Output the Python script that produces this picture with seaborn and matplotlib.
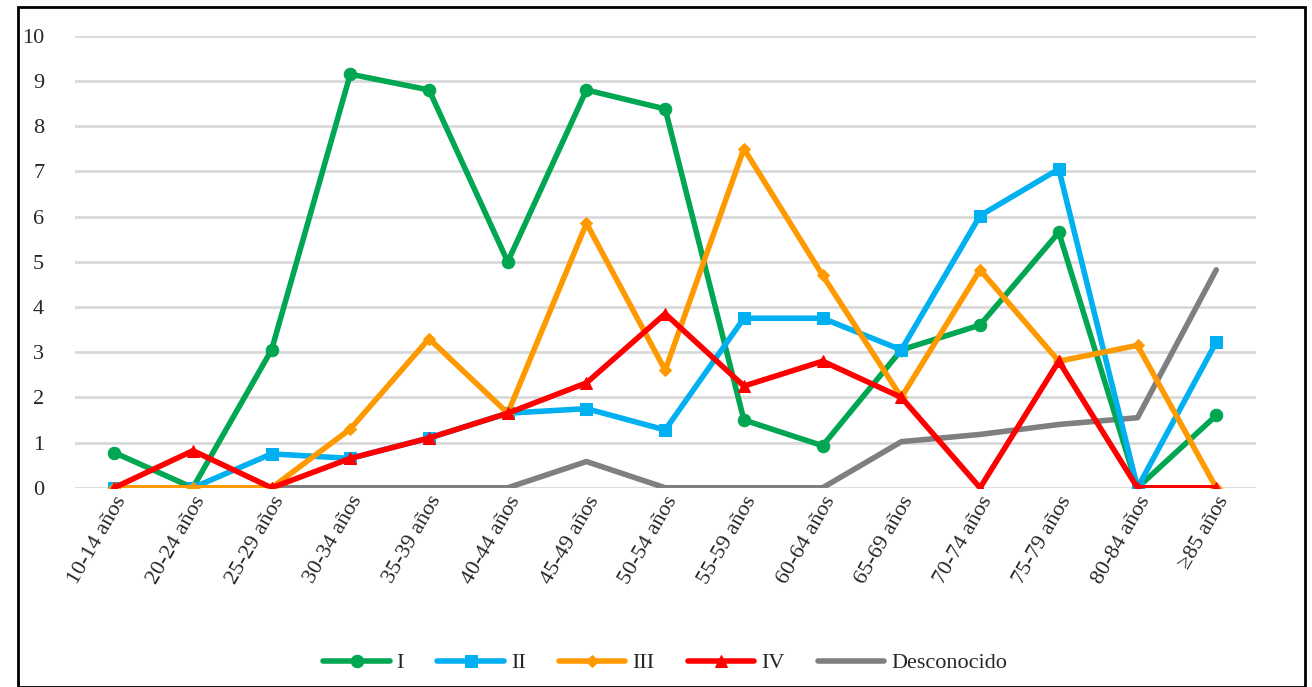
import matplotlib
matplotlib.use("Agg")
import matplotlib.pyplot as plt
import seaborn as sns
import pandas as pd
from matplotlib.patches import Rectangle

categorias = ['10-14 años', '20-24 años', '25-29 años', '30-34 años', '35-39 años',
              '40-44 años', '45-49 años', '50-54 años', '55-59 años', '60-64 años',
              '65-69 años', '70-74 años', '75-79 años', '80-84 años', '≥85 años']
serie_I = [0.78, 0, 3.05, 9.15, 8.8, 5.0, 8.8, 8.38, 1.5, 0.93, 3.05, 3.6, 5.65, 0, 1.6]
serie_II = [0, 0, 0.75, 0.65, 1.1, 1.65, 1.75, 1.28, 3.75, 3.75, 3.05, 6.02, 7.05, 0, 3.22]
serie_III = [0, 0, 0, 1.3, 3.3, 1.65, 5.85, 2.6, 7.5, 4.7, 2.0, 4.82, 2.8, 3.15, 0]
serie_IV = [0, 0.82, 0, 0.65, 1.1, 1.65, 2.32, 3.85, 2.25, 2.8, 2.0, 0, 2.8, 0, 0]
serie_desc = [0, 0, 0, 0, 0, 0, 0.58, 0, 0, 0, 1.02, 1.18, 1.4, 1.55, 4.82]

nombres = ['I', 'II', 'III', 'IV', 'Desconocido']
colores = ['#00A651', '#00B0F0', '#FF9900', '#FF0000', '#7F7F7F']
marcadores = ['o', 's', 'D', '^', None]
tam = [9, 9, 6, 9, 0]
orden_z = [3, 4, 5, 6, 2]

df = pd.DataFrame({'cat': categorias * 5,
                   'serie': sum([[n] * len(categorias) for n in nombres], []),
                   'valor': serie_I + serie_II + serie_III + serie_IV + serie_desc})

sns.set_style('white')
plt.rcParams['font.family'] = ['Liberation Serif', 'DejaVu Serif']

fig = plt.figure(figsize=(13.12, 6.87), dpi=100)
ax = fig.add_axes([0.057, 0.29, 0.90, 0.658])
for n, c, m, s, z in zip(nombres, colores, marcadores, tam, orden_z):
    d = df[df['serie'] == n]
    sns.lineplot(data=d, x='cat', y='valor', ax=ax, color=c, marker=m, markersize=s,
                 markeredgecolor=c, linewidth=4, label=n, sort=False, zorder=z)

ax.set_ylim(0, 10)
ax.set_yticks(range(0, 11))
ax.set_xlim(-0.5, len(categorias) - 0.5)
ax.yaxis.grid(True, color='#D9D9D9', linewidth=2)
ax.set_axisbelow(True)
for sp in ax.spines.values():
    sp.set_visible(False)
ax.set_xlabel('')
ax.set_ylabel('')
ax.tick_params(axis='y', labelsize=16, length=0, pad=22)
ax.tick_params(axis='x', labelsize=16, length=0)
plt.setp(ax.get_xticklabels(), rotation=60, ha='right', rotation_mode='anchor')
ax.legend(loc='lower center', bbox_to_anchor=(0.5, -0.455), ncol=5, frameon=False,
          fontsize=16, handlelength=3, columnspacing=1.5, handletextpad=0.3)

fig.patches.append(Rectangle((0.014, 0.0), 0.981, 0.99, transform=fig.transFigure,
                             fill=False, edgecolor='black', linewidth=2))
fig.savefig('out.png', dpi=100)
